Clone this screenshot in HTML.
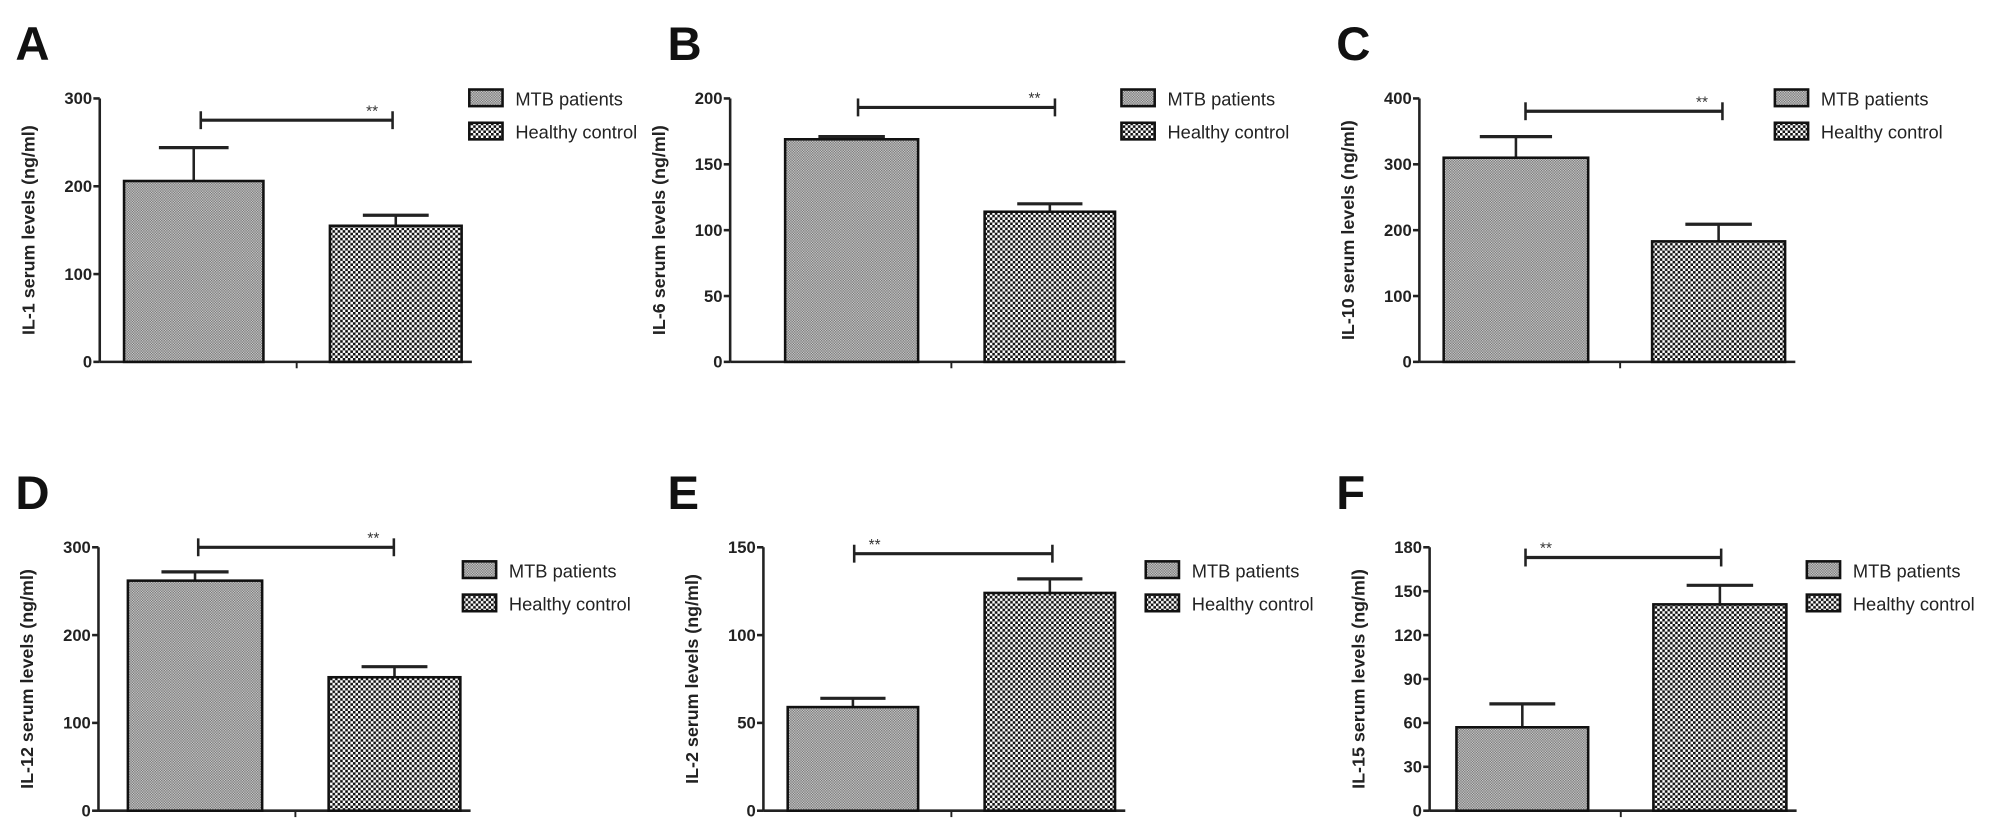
<!DOCTYPE html>
<html><head><meta charset="utf-8"><style>
html,body{margin:0;padding:0;background:#fff;}
svg{display:block;font-family:"Liberation Sans",Arial,sans-serif;}
</style></head><body>
<svg id="fig" width="2014" height="835" viewBox="0 0 1575 653" xmlns="http://www.w3.org/2000/svg">
<defs>
<pattern id="pMTB" patternUnits="userSpaceOnUse" width="2" height="2">
<rect width="2" height="2" fill="#c6c6c6"/><rect width="1" height="1" fill="#7a7a7a"/><rect x="1" y="1" width="1" height="1" fill="#7a7a7a"/>
</pattern>
<pattern id="pHC" patternUnits="userSpaceOnUse" width="4" height="4">
<rect width="4" height="4" fill="#fff"/><rect width="2" height="2" fill="#111"/><rect x="2" y="2" width="2" height="2" fill="#111"/>
</pattern>
</defs>
</svg>
<script>
const panelLetters = ['A','B','C','D','E','F'];
const panelTitles = ['IL-1 serum levels (ng/ml)','IL-6 serum levels (ng/ml)','IL-10 serum levels (ng/ml)','IL-12 serum levels (ng/ml)','IL-2 serum levels (ng/ml)','IL-15 serum levels (ng/ml)'];
const seriesNames = ['MTB patients','Healthy control'];
const mtbValues = [206,169,310,262,59,57];
const mtbErrors = [38,2,32,10,5,16];
const hcValues = [155,114,183,152,124,141];
const hcErrors = [12,6,26,12,8,13];
const axisMax = [300,200,400,300,150,180];
const tickStep = [100,50,100,100,50,30];
const starsLeft = [false,false,false,false,true,true];

// layout (not data)
const layout = [
 {ax:78, top:77, base:283, b1:[97,206], b2:[258,361], brY:94, br:[157,307], lg:367, lgY:77, let:12},
 {ax:571, top:77, base:283, b1:[614,718], b2:[770,872], brY:84, br:[671,825], lg:877, lgY:77, let:522},
 {ax:1110, top:77, base:283, b1:[1129,1242], b2:[1292,1396], brY:87, br:[1193,1347], lg:1388, lgY:77, let:1045},
 {ax:77, top:428, base:634, b1:[100,205], b2:[257,360], brY:428, br:[155,308], lg:362, lgY:446, let:12},
 {ax:597, top:428, base:634, b1:[616,718], b2:[770,872], brY:433, br:[668,823], lg:896, lgY:446, let:522},
 {ax:1118, top:428, base:634, b1:[1139,1242], b2:[1293,1397], brY:436, br:[1193,1346], lg:1413, lgY:446, let:1045}
];
const svg = document.getElementById('fig');
const NS = 'http://www.w3.org/2000/svg';
function mk(tag, attrs, parent){const e=document.createElementNS(NS,tag);for(const k in attrs)e.setAttribute(k,attrs[k]);(parent||svg).appendChild(e);return e;}

layout.forEach((L,i)=>{
 const g = mk('g',{});
 
 
 const y = v => L.base - v/axisMax[i]*(L.base-L.top);
 const letter = mk('text',{x:L.let,y:L.top-30,'font-size':37,'font-weight':'bold',fill:'#111'},g);
 letter.textContent = panelLetters[i];
 
 
 const ya = mk('line',{x1:L.ax,y1:L.top,x2:L.ax,y2:L.base,stroke:'#222','stroke-width':2},g);
 
 
 for(let v=0; v<=axisMax[i]+0.001; v+=tickStep[i]){
  mk('line',{x1:L.ax-5,y1:y(v),x2:L.ax,y2:y(v),stroke:'#222','stroke-width':2},g);
  const t = mk('text',{x:L.ax-6,y:y(v)+4.5,'font-size':13,'font-weight':'bold','text-anchor':'end',fill:'#222'},g);
  t.textContent = v;
  
  
 }
 const cy=(L.top+L.base)/2;
 const tx=L.ax-51;
 const ttl = mk('text',{x:tx,y:cy,'font-size':14,'font-weight':'bold','text-anchor':'middle',fill:'#222',transform:`rotate(-90 ${tx} ${cy})`},g);
 ttl.textContent = panelTitles[i];
 
 
 const xa = mk('line',{x1:L.ax,y1:L.base,x2:L.b2[1]+8,y2:L.base,stroke:'#222','stroke-width':2},g);
 
 
 const mid=(L.b1[1]+L.b2[0])/2;
 mk('line',{x1:mid,y1:L.base,x2:mid,y2:L.base+5,stroke:'#222','stroke-width':1.5},g);
 [[L.b1,mtbValues[i],mtbErrors[i],'url(#pMTB)','bar-mtb'],[L.b2,hcValues[i],hcErrors[i],'url(#pHC)','bar-healthy']].forEach(b=>{
  const [xs,v,e,fill,name]=b;
  const cx=(xs[0]+xs[1])/2, w=xs[1]-xs[0];
  const eb = mk('line',{x1:cx,y1:y(v),x2:cx,y2:y(v+e),stroke:'#222','stroke-width':2},g);
  
  
  mk('line',{x1:cx-w/4,y1:y(v+e),x2:cx+w/4,y2:y(v+e),stroke:'#222','stroke-width':2.5},g);
  const r = mk('rect',{x:xs[0],y:y(v),width:w,height:L.base-y(v),fill:fill,stroke:'#111','stroke-width':2},g);
  
  
 });
 const br = mk('g',{},g);
 
 
 mk('line',{x1:L.br[0],y1:L.brY,x2:L.br[1],y2:L.brY,stroke:'#222','stroke-width':2.5},br);
 mk('line',{x1:L.br[0],y1:L.brY-7,x2:L.br[0],y2:L.brY+7,stroke:'#222','stroke-width':2},br);
 mk('line',{x1:L.br[1],y1:L.brY-7,x2:L.br[1],y2:L.brY+7,stroke:'#222','stroke-width':2},br);
 const st = mk('text',{x:starsLeft[i]?L.br[0]+16:L.br[1]-16,y:L.brY-3,'font-size':12,'text-anchor':'middle',fill:'#333'},br);
 st.textContent='**';
 seriesNames.forEach((s,k)=>{
  const ly=L.lgY+k*26;
  const lr = mk('rect',{x:L.lg,y:ly-7,width:26,height:13,fill:k?'url(#pHC)':'url(#pMTB)',stroke:'#111','stroke-width':2},g);
  
  
  const lt = mk('text',{x:L.lg+36,y:ly+5.5,'font-size':14.3,fill:'#222'},g);
  lt.textContent=s;
  
  
 });
});
</script>
</body></html>
